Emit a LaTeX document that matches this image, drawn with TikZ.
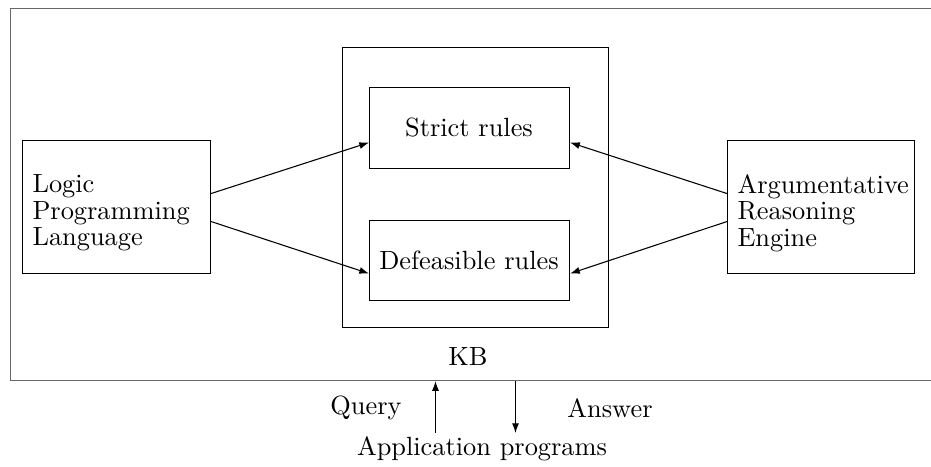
\documentclass[tikz,border=0pt]{standalone}
\usetikzlibrary{arrows.meta,calc}
\begin{document}
\begin{tikzpicture}[x=0.37pt,y=-0.37pt,
  font=\fontsize{9.75}{11}\selectfont,
  box/.style={draw, rectangle, inner sep=0pt, anchor=north west},
  sz/.style 2 args={minimum width=#1*0.37pt, minimum height=#2*0.37pt},
  lbl/.style={inner sep=0pt},
  stack/.style={inner sep=0pt, align=left, anchor=west, font=\fontsize{9.75}{9.8}\selectfont},
  arr/.style={-{Latex[length=3.6pt,width=2.6pt]}},
  outerline/.style={draw=black!60}]
\useasboundingbox (0,0) rectangle (931,467);
\node[box, outerline, sz={930}{372}] (outer) at (10,8) {};
\node[box, sz={266}{280}] (kb) at (342,47) {};
\node[box, sz={200}{81}] (strict) at (369,87) {};
\node[lbl] (strictt) at (469,128) {Strict rules};
\node[box, sz={200}{80}] (defeas) at (369,220) {};
\node[lbl] (defeast) at (469,260) {Defeasible rules};
\node[box, sz={188}{133}] (logic) at (22,140) {};
\node[stack] (logict) at (32,213) {Logic\\Programming\\Language};
\node[box, sz={187}{133}] (arg) at (727,140) {};
\node[stack] (argt) at (737,213) {Argumentative\\Reasoning\\Engine};
\node[lbl] (kbt) at (468,357) {KB};
\node[lbl] (query) at (366,408) {Query};
\node[lbl] (answer) at (610,408) {Answer};
\node[lbl] (app) at (482,449) {Application programs};
\coordinate (q) at (435.5,433);
\coordinate (a) at (515.5,433);
\draw[arr] ($(logic.east)+(0,-13.5)$) -- ($(strict.west)+(0,14.5)$);
\draw[arr] ($(logic.east)+(0,14.5)$) -- ($(defeas.west)+(0,13)$);
\draw[arr] ($(arg.west)+(0,-13.5)$) -- ($(strict.east)+(0,14.5)$);
\draw[arr] ($(arg.west)+(0,14.5)$) -- ($(defeas.east)+(0,13)$);
\draw[arr] (q) -- (q |- outer.south);
\draw[arr] (a |- outer.south) -- (a);
\end{tikzpicture}
\end{document}
